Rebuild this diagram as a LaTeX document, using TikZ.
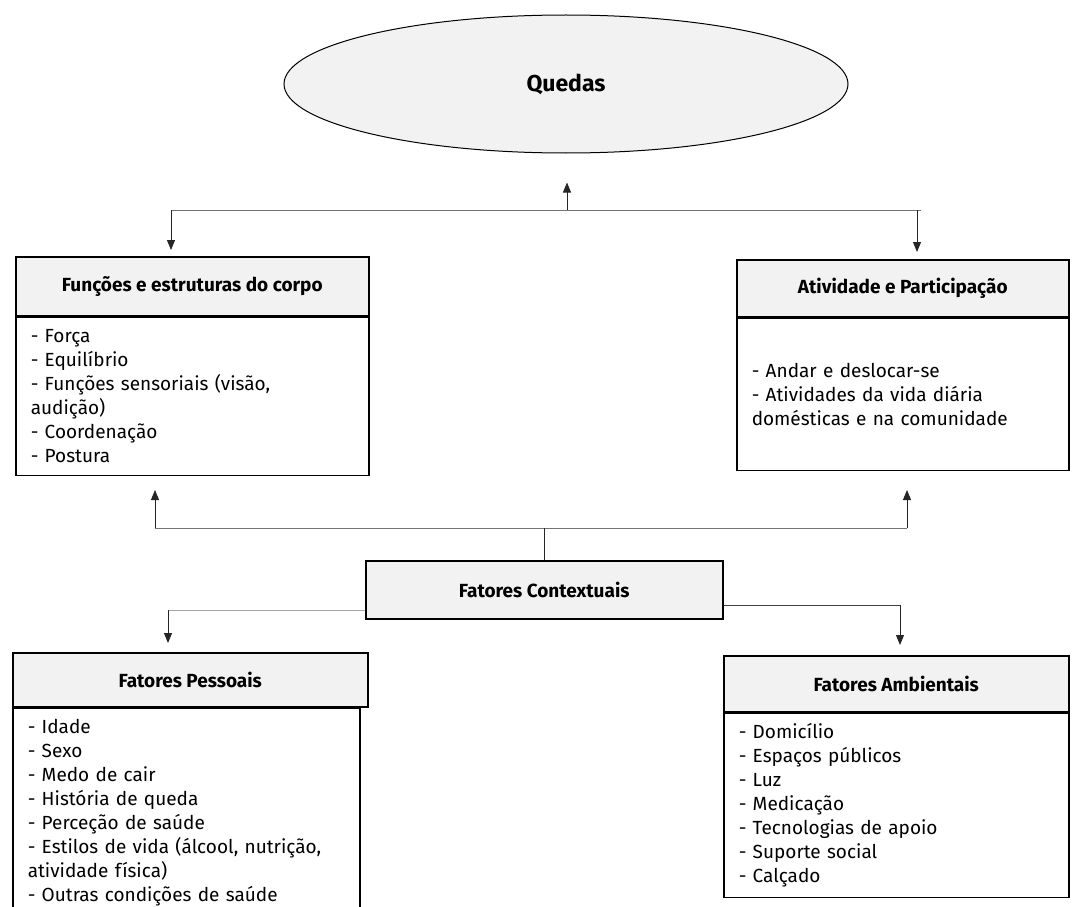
\documentclass[tikz,border=0pt]{standalone}
\usepackage{fontspec}
\setmainfont{Fira Sans}
\usetikzlibrary{arrows.meta,shapes.geometric,positioning}

\begin{document}
\begin{tikzpicture}[x=1pt, y=-1pt, node distance=0pt,
    txt/.style = {font=\fontsize{19}{24}\selectfont},
    hdr/.style = {draw, line width=1.5pt, fill=gray!10, font=\fontsize{19}{24}\selectfont\bfseries, inner sep=0, anchor=north west},
    body/.style = {draw, line width=1.5pt, txt, align=left, inner xsep=15pt, inner ysep=0},
    link/.style = {draw=black!55, line width=0.9pt},
    arr/.style = {link, draw=black!85, -{Triangle[width=8pt,length=10pt]}}]
    \useasboundingbox[fill=white] (0,0) rectangle (1072,907);

    \node[ellipse, draw, line width=1pt, fill=gray!10, minimum width=564pt, minimum height=138pt,
          font=\bfseries\fontsize{23}{26}\selectfont]  (queda) at (566,84) {Quedas};

    \node[hdr, minimum width=353pt, minimum height=59pt] (fpc_h) at (15,256) {Funções e estruturas do corpo};
    \node[body, below=of fpc_h, text width=323pt, minimum height=158pt] (fpc_b)
        {- Força\\- Equilíbrio\\- Funções sensoriais (visão,\\audição)\\- Coordenação\\- Postura};

    \node[hdr, minimum width=332pt, minimum height=57pt] (ap_h) at (736,259) {Atividade e Participação};
    \node[body, below=of ap_h, text width=302pt, minimum height=152pt] (ap_b)
        {- Andar e deslocar-se\\- Atividades da vida diária\\domésticas e na comunidade};

    \node[hdr, minimum width=357pt, minimum height=58pt] (fc) at (365,560) {Fatores Contextuais};

    \node[hdr, minimum width=355pt, minimum height=54pt] (fp_h) at (12,652) {Fatores Pessoais};
    \node[body, anchor=north west, text width=317pt, minimum height=209pt] (fp_b) at (fp_h.south west)
        {- Idade\\- Sexo\\- Medo de cair\\- História de queda\\- Perceção de saúde\\- Estilos de vida (álcool, nutrição,\\atividade física)\\- Outras condições de saúde};

    \node[hdr, minimum width=345pt, minimum height=56pt] (fa_h) at (723,655) {Fatores Ambientais};
    \node[body, below=of fa_h, text width=315pt, minimum height=184pt] (fa_b)
        {- Domicílio\\- Espaços públicos\\- Luz\\- Medicação\\- Tecnologias de apoio\\- Suporte social\\- Calçado};

    % upper branch
    \coordinate (top_l) at (171,210);
    \coordinate (top_m) at (567,210);
    \coordinate (top_r) at (917,210);
    \draw[link] (top_l) -- ([xshift=4pt]top_r);
    \draw[arr, shorten >=29pt] (top_m) -- (top_m |- queda.south);
    \draw[arr, shorten >=6pt] (top_l) -- (top_l |- fpc_h.north);
    \draw[arr, shorten >=7pt] (top_r) -- (top_r |- ap_h.north);

    % middle branch
    \coordinate (mid_l) at (155,528);
    \coordinate (mid_r) at (907,528);
    \draw[link] (mid_l) -- (mid_r);
    \draw[link, draw=black!85] (fc.north |- mid_l) -- (fc.north);
    \draw[arr, shorten >=14pt] (mid_l) -- (mid_l |- fpc_b.south);
    \draw[arr, shorten >=19pt] (mid_r) -- (mid_r |- ap_b.south);

    % lower branch
    \coordinate (fc_l) at (168,610);
    \coordinate (fc_r) at (900,605);
    \draw[link, draw=black!35] (fc.west |- fc_l) -- (fc_l);
    \draw[arr, shorten >=9pt] (fc_l) -- (fc_l |- fp_h.north);
    \draw[link, draw=black!75] (fc.east |- fc_r) -- (fc_r);
    \draw[arr, shorten >=10pt] (fc_r) -- (fc_r |- fa_h.north);
\end{tikzpicture}
\end{document}
